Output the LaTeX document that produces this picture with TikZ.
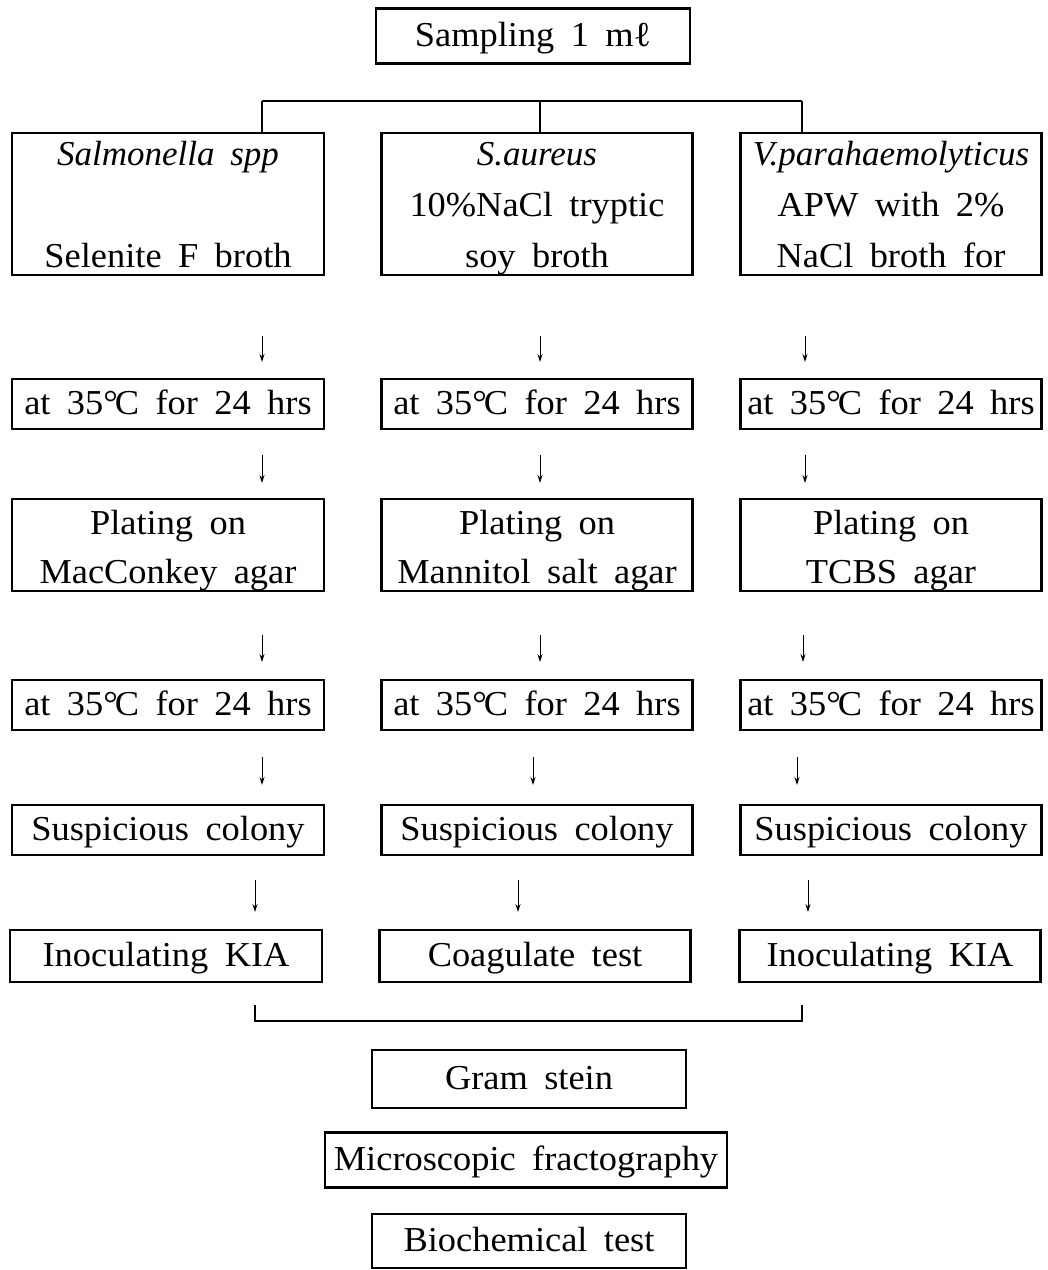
\documentclass[tikz,border=0pt]{standalone}
\usepackage{fontspec}
\setmainfont{Liberation Serif}[WordSpace=1.8, FakeStretch=1.04, ItalicFeatures={FakeStretch=1.0}]
\usetikzlibrary{arrows.meta}

\newcommand{\degC}{35°\kern-3pt C}
\newcommand{\padtop}[1]{\rule{0pt}{#1}}
\newcommand{\padbot}[1]{\rule[-#1]{0pt}{#1}}

\begin{document}
\begin{tikzpicture}[x=1pt, y=-1pt, thick]
	\tikzstyle{stage}   = [draw=black, line width=2.2pt, inner sep=0pt, align=center, font=\fontsize{35}{50}\selectfont]
	\tikzstyle{single}  = [execute at end node=\strut]
	\tikzstyle{stageL}  = [stage, minimum width=312pt]
	\tikzstyle{stageM}  = [stage, minimum width=311pt]
	\tikzstyle{stageR}  = [stage, minimum width=301pt]
	\tikzstyle{flow}    = [line width=1pt, -{Stealth[length=8pt, width=5pt]}]
	\tikzstyle{bracket} = [line width=1.8pt]

	\useasboundingbox (0,0) rectangle (1048,1270);

	\node[stage, single, minimum width=314pt, minimum height=55pt] (sample) at (533,36) {Sampling 1 mℓ};

	% enrichment broths
	\node[stageL, minimum height=142pt, font=\fontsize{35}{51}\selectfont] (salm) at (168,204) {\padtop{32pt}\textit{Salmonella spp}\\ \mbox{}\\Selenite F broth\padbot{8pt}};
	\node[stageM, minimum height=142pt, font=\fontsize{35}{51}\selectfont] (saur) at (537,204) {\padtop{32pt}\textit{S.aureus}\\10\%NaCl tryptic\\soy broth\padbot{8pt}};
	\node[stageR, minimum height=142pt, font=\fontsize{35}{51}\selectfont] (vpar) at (891,204) {\padtop{32pt}\textit{V.parahaemolyticus}\\APW with 2\%\\NaCl broth for\padbot{8pt}};

	\foreach \col/\x in {L/168, M/537, R/891}{
		\node[stage\col, single, minimum height=48pt] (incA\col) at (\x,404) {at \degC\ for 24 hrs};
		\node[stage\col, single, minimum height=50pt] (incB\col) at (\x,705) {at \degC\ for 24 hrs};
		\node[stage\col, single, minimum height=50pt] (colony\col) at (\x,830) {Suspicious colony};
	}

	\foreach \col/\x/\txt in {L/168/MacConkey agar, M/537/Mannitol salt agar, R/891/TCBS agar}
		\node[stage\col, minimum height=90pt, font=\fontsize{35}{49}\selectfont] (plate\col) at (\x,545) {\padtop{35pt}Plating on\\\txt\padbot{6pt}};

	\foreach \col/\x/\txt in {L/166/Inoculating KIA, M/535/Coagulate test, R/890/Inoculating KIA}
		\node[stage\col, single, minimum height=52pt] (test\col) at (\x,956) {\txt};

	\node[stage, single, minimum width=314pt, minimum height=58pt] (gram) at (529,1079) {Gram stein};
	\node[stage, single, minimum width=402pt, minimum height=55pt] (micro) at (526,1160) {Microscopic fractography};
	\node[stage, single, minimum width=314pt, minimum height=54pt] (bio) at (529,1241) {Biochemical test};

	% split bracket
	\coordinate (splitL) at (262,101);
	\coordinate (splitR) at (802,101);
	\draw[bracket] (splitL) -- (splitR);
	\draw[bracket] (splitL) -- (splitL |- salm.north);
	\draw[bracket] (splitL -| 540,0) -- (540,0 |- saur.north);
	\draw[bracket] (splitR) -- (splitR |- vpar.north);

	% down arrows
	\foreach \n/\x/\ya/\yb in {1/262/336/362, 2/540/336/362, 3/805/336/362,
			4/262/455/483, 5/540/455/483, 6/805/455/483,
			7/262/635/662, 8/540/635/662, 9/803/635/662,
			10/262/757/785, 11/533/757/785, 12/797/757/785,
			13/255/880/912, 14/518/880/912, 15/808/880/912}{
		\coordinate (dn\n a) at (\x,\ya);
		\coordinate (dn\n b) at (\x,\yb);
		\draw[flow] (dn\n a) -- (dn\n b);
	}

	% joining bracket
	\coordinate (joinL) at (255,1005);
	\coordinate (joinR) at (802,1005);
	\draw[bracket] (joinL) |- (802,1021) -- (joinR);

\end{tikzpicture}
\end{document}
